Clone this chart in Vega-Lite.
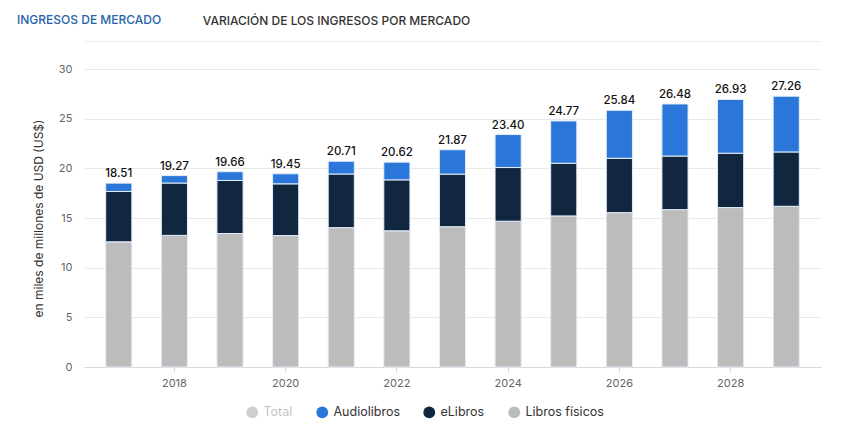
{
  "$schema": "https://vega.github.io/schema/vega-lite/v6.json",
  "autosize": {"type": "none"},
  "width": 737,
  "height": 298,
  "padding": {"left": 84, "top": 69, "right": 20, "bottom": 66},
  "background": "white",
  "config": {"view": {"stroke": null}, "font": "Inter"},
  "title": {
    "text": "INGRESOS DE MERCADO",
    "anchor": "start",
    "frame": "group",
    "dx": -67,
    "dy": 28,
    "color": "#2563a8",
    "fontSize": 12,
    "fontWeight": 500,
    "baseline": "middle",
    "offset": 10
  },
  "datasets": {
    "segments": [
      {"year": "2017", "segmento": "Libros físicos", "orden": 1, "valor": 12.60},
      {"year": "2017", "segmento": "eLibros", "orden": 2, "valor": 5.07},
      {"year": "2017", "segmento": "Audiolibros", "orden": 3, "valor": 0.84},
      {"year": "2018", "segmento": "Libros físicos", "orden": 1, "valor": 13.25},
      {"year": "2018", "segmento": "eLibros", "orden": 2, "valor": 5.27},
      {"year": "2018", "segmento": "Audiolibros", "orden": 3, "valor": 0.75},
      {"year": "2019", "segmento": "Libros físicos", "orden": 1, "valor": 13.44},
      {"year": "2019", "segmento": "eLibros", "orden": 2, "valor": 5.34},
      {"year": "2019", "segmento": "Audiolibros", "orden": 3, "valor": 0.88},
      {"year": "2020", "segmento": "Libros físicos", "orden": 1, "valor": 13.23},
      {"year": "2020", "segmento": "eLibros", "orden": 2, "valor": 5.21},
      {"year": "2020", "segmento": "Audiolibros", "orden": 3, "valor": 1.01},
      {"year": "2021", "segmento": "Libros físicos", "orden": 1, "valor": 14.03},
      {"year": "2021", "segmento": "eLibros", "orden": 2, "valor": 5.40},
      {"year": "2021", "segmento": "Audiolibros", "orden": 3, "valor": 1.28},
      {"year": "2022", "segmento": "Libros físicos", "orden": 1, "valor": 13.71},
      {"year": "2022", "segmento": "eLibros", "orden": 2, "valor": 5.13},
      {"year": "2022", "segmento": "Audiolibros", "orden": 3, "valor": 1.78},
      {"year": "2023", "segmento": "Libros físicos", "orden": 1, "valor": 14.12},
      {"year": "2023", "segmento": "eLibros", "orden": 2, "valor": 5.30},
      {"year": "2023", "segmento": "Audiolibros", "orden": 3, "valor": 2.45},
      {"year": "2024", "segmento": "Libros físicos", "orden": 1, "valor": 14.68},
      {"year": "2024", "segmento": "eLibros", "orden": 2, "valor": 5.40},
      {"year": "2024", "segmento": "Audiolibros", "orden": 3, "valor": 3.32},
      {"year": "2025", "segmento": "Libros físicos", "orden": 1, "valor": 15.21},
      {"year": "2025", "segmento": "eLibros", "orden": 2, "valor": 5.30},
      {"year": "2025", "segmento": "Audiolibros", "orden": 3, "valor": 4.26},
      {"year": "2026", "segmento": "Libros físicos", "orden": 1, "valor": 15.54},
      {"year": "2026", "segmento": "eLibros", "orden": 2, "valor": 5.47},
      {"year": "2026", "segmento": "Audiolibros", "orden": 3, "valor": 4.83},
      {"year": "2027", "segmento": "Libros físicos", "orden": 1, "valor": 15.84},
      {"year": "2027", "segmento": "eLibros", "orden": 2, "valor": 5.40},
      {"year": "2027", "segmento": "Audiolibros", "orden": 3, "valor": 5.24},
      {"year": "2028", "segmento": "Libros físicos", "orden": 1, "valor": 16.05},
      {"year": "2028", "segmento": "eLibros", "orden": 2, "valor": 5.47},
      {"year": "2028", "segmento": "Audiolibros", "orden": 3, "valor": 5.41},
      {"year": "2029", "segmento": "Libros físicos", "orden": 1, "valor": 16.18},
      {"year": "2029", "segmento": "eLibros", "orden": 2, "valor": 5.47},
      {"year": "2029", "segmento": "Audiolibros", "orden": 3, "valor": 5.61}
    ],
    "totals": [
      {"year": "2017", "total": 18.51},
      {"year": "2018", "total": 19.27},
      {"year": "2019", "total": 19.66},
      {"year": "2020", "total": 19.45},
      {"year": "2021", "total": 20.71},
      {"year": "2022", "total": 20.62},
      {"year": "2023", "total": 21.87},
      {"year": "2024", "total": 23.40},
      {"year": "2025", "total": 24.77},
      {"year": "2026", "total": 25.84},
      {"year": "2027", "total": 26.48},
      {"year": "2028", "total": 26.93},
      {"year": "2029", "total": 27.26}
    ]
  },
  "layer": [
    {
      "data": {"name": "segments"},
      "mark": {"type": "bar", "stroke": "#e4eefa", "strokeWidth": 1},
      "encoding": {
        "x": {
          "field": "year",
          "type": "ordinal",
          "scale": {"paddingInner": 0.53, "paddingOuter": 0.39},
          "axis": {
            "orient": "bottom",
            "title": null,
            "values": ["2018", "2020", "2022", "2024", "2026", "2028"],
            "labelAngle": 0,
            "labelColor": "#666666",
            "labelFontSize": 11,
            "labelPadding": 5,
            "domainColor": "#d9d9d9",
            "tickColor": "#d9d9d9",
            "tickSize": 5,
            "grid": false
          }
        },
        "y": {
          "field": "valor",
          "type": "quantitative",
          "stack": "zero",
          "scale": {"domain": [0, 30]},
          "axis": {
            "title": "en miles de millones de USD (US$)",
            "titleColor": "#333333",
            "titleFontSize": 12,
            "titleFontWeight": "normal",
            "titlePadding": 13,
            "values": [0, 5, 10, 15, 20, 25, 30],
            "labelColor": "#666666",
            "labelFontSize": 11,
            "labelPadding": 12,
            "domain": false,
            "ticks": false,
            "gridColor": "#e9e9e9"
          }
        },
        "color": {
          "field": "segmento",
          "type": "nominal",
          "scale": {
            "domain": ["Total", "Audiolibros", "eLibros", "Libros físicos"],
            "range": ["#cfcfcf", "#2b76d9", "#11263f", "#bcbcbc"]
          },
          "legend": {
            "orient": "none",
            "legendX": 162,
            "legendY": 337,
            "direction": "horizontal",
            "title": null,
            "symbolType": "circle",
            "symbolSize": 140,
            "symbolStrokeWidth": 0,
            "labelFontSize": 12.5,
            "labelOffset": 5,
            "labelColor": {"expr": "datum.label === 'Total' ? '#c4c4c4' : '#333333'"},
            "columnPadding": 23
          }
        },
        "order": {"field": "orden", "type": "quantitative"}
      }
    },
    {
      "data": {"name": "totals"},
      "mark": {"type": "text", "baseline": "bottom", "dy": -4, "fontWeight": 500, "fontSize": 11.5, "color": "#111111"},
      "encoding": {
        "x": {
          "field": "year",
          "type": "ordinal",
          "axis": {
            "orient": "top",
            "offset": 28,
            "labels": false,
            "ticks": false,
            "grid": false,
            "domainColor": "#eeeeee",
            "title": "VARIACIÓN DE LOS INGRESOS POR MERCADO",
            "titleX": 252,
            "titleY": -21,
            "titleAlign": "center",
            "titleBaseline": "middle",
            "titleColor": "#333333",
            "titleFontSize": 12,
            "titleFontWeight": 500
          }
        },
        "y": {"field": "total", "type": "quantitative"},
        "text": {"field": "total", "type": "quantitative", "format": ".2f"}
      }
    }
  ],
  "resolve": {"axis": {"x": "independent"}}
}
